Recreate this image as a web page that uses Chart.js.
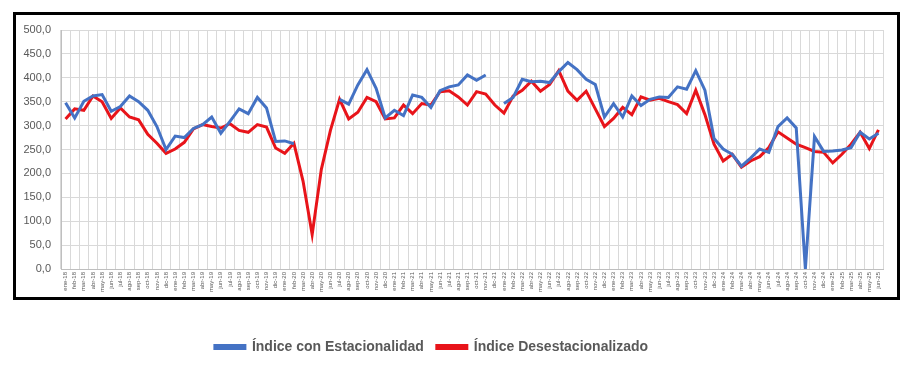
<!DOCTYPE html>
<html>
<head>
<meta charset="utf-8">
<script src="https://cdn.jsdelivr.net/npm/chart.js@4"></script>
<style>
  html, body { margin: 0; padding: 0; background: #fff; }
  #wrap { position: relative; width: 915px; height: 390px; }
  #frame {
    position: absolute; left: 13px; top: 12px; width: 887px; height: 288px;
    border: 3px solid #000; box-sizing: border-box; pointer-events: none;
  }
</style>
</head>
<body>
<div id="wrap">
  <canvas id="chart" width="915" height="390"></canvas>
  <div id="frame"></div>
</div>
<script>
// Meses ene-18 ... jun-25
const meses = [
  'ene-18','feb-18','mar-18','abr-18','may-18','jun-18','jul-18','ago-18','sep-18','oct-18','nov-18','dic-18',
  'ene-19','feb-19','mar-19','abr-19','may-19','jun-19','jul-19','ago-19','sep-19','oct-19','nov-19','dic-19',
  'ene-20','feb-20','mar-20','abr-20','may-20','jun-20','jul-20','ago-20','sep-20','oct-20','nov-20','dic-20',
  'ene-21','feb-21','mar-21','abr-21','may-21','jun-21','jul-21','ago-21','sep-21','oct-21','nov-21','dic-21',
  'ene-22','feb-22','mar-22','abr-22','may-22','jun-22','jul-22','ago-22','sep-22','oct-22','nov-22','dic-22',
  'ene-23','feb-23','mar-23','abr-23','may-23','jun-23','jul-23','ago-23','sep-23','oct-23','nov-23','dic-23',
  'ene-24','feb-24','mar-24','abr-24','may-24','jun-24','jul-24','ago-24','sep-24','oct-24','nov-24','dic-24',
  'ene-25','feb-25','mar-25','abr-25','may-25','jun-25'
];

// Índice con Estacionalidad (null = sin dato)
const conEstacionalidad = [
  348, 316, 351, 362, 365, 330, 340, 362, 350, 332, 298, 250,
  278, 275, 294, 302, 318, 284, 309, 335, 325, 359, 337, 267,
  268, 262, null, null, null, null, 355, 345, 385, 417, 378, 316,
  332, 321, 364, 359, 338, 373, 381, 385, 406, 395, 406, null,
  346, 359, 397, 392, 393, 390, 413, 432, 417, 397, 386, 318,
  346, 318, 362, 342, 355, 360, 359, 381, 376, 415, 374, 273,
  251, 240, 215, 232, 251, 244, 298, 316, 295, 0, 277, 246,
  247, 249, 254, 286, 272, 284
];

// Índice Desestacionalizado
const desestacionalizado = [
  314, 335, 332, 362, 350, 315, 337, 318, 312, 282, 263, 242,
  251, 265, 293, 302, 298, 295, 304, 290, 286, 302, 297, 253,
  242, 263, 184, 72, 208, 290, 355, 314, 328, 359, 350, 314,
  316, 343, 325, 346, 343, 371, 373, 360, 343, 371, 366, 343,
  326, 362, 374, 393, 372, 386, 415, 372, 353, 372, 335, 298,
  315, 338, 323, 360, 353, 357, 350, 344, 325, 374, 323, 261,
  226, 240, 213, 226, 235, 254, 287, 274, 261, 254, 246, 244,
  222, 240, 261, 286, 252, 291
];

const AZUL = '#4472c4';
const ROJO = '#e8141a';
const GRIS_TXT = '#595959';
const GRIS_GRID = '#d9d9d9';

// la leyenda del original queda algo a la izquierda del centro
const moverLeyenda = {
  id: 'moverLeyenda',
  afterLayout(chart) {
    chart.legend.left -= 18;
    chart.legend.right -= 18;
  }
};

const ctx = document.getElementById('chart').getContext('2d');
new Chart(ctx, {
  type: 'line',
  data: {
    labels: meses,
    datasets: [{
      label: 'Índice con Estacionalidad',
      data: conEstacionalidad,
      borderColor: AZUL,
      backgroundColor: AZUL,
      borderWidth: 3,
      pointRadius: 0,
      tension: 0,
      spanGaps: false
    }, {
      label: 'Índice Desestacionalizado',
      data: desestacionalizado,
      borderColor: ROJO,
      backgroundColor: ROJO,
      borderWidth: 3,
      pointRadius: 0,
      tension: 0
    }]
  },
  plugins: [moverLeyenda],
  options: {
    responsive: false,
    animation: false,
    layout: { padding: { left: 16, right: 32, top: 30, bottom: 26 } },
    scales: {
      x: {
        offset: true,
        grid: { color: GRIS_GRID, offset: true, drawTicks: false },
        border: { color: '#bfbfbf' },
        ticks: {
          autoSkip: false,
          minRotation: 90,
          maxRotation: 90,
          padding: 3,
          color: GRIS_TXT,
          font: { family: 'Liberation Sans', size: 6 }
        },
        afterFit: (scale) => { scale.height = 58; }
      },
      y: {
        min: 0,
        max: 500,
        grid: { color: GRIS_GRID, drawTicks: false },
        border: { color: '#bfbfbf' },
        ticks: {
          stepSize: 50,
          padding: 10,
          color: GRIS_TXT,
          font: { family: 'Liberation Sans', size: 11 },
          callback: (v) => v.toFixed(1).replace('.', ',')
        },
        afterFit: (scale) => { scale.width = 45; }
      }
    },
    plugins: {
      legend: {
        position: 'bottom',
        labels: {
          boxWidth: 30,
          boxHeight: 3,
          padding: 13,
          color: GRIS_TXT,
          font: { family: 'Liberation Sans', size: 14, weight: 'bold' }
        }
      },
      tooltip: { enabled: false }
    }
  }
});
</script>
</body>
</html>
